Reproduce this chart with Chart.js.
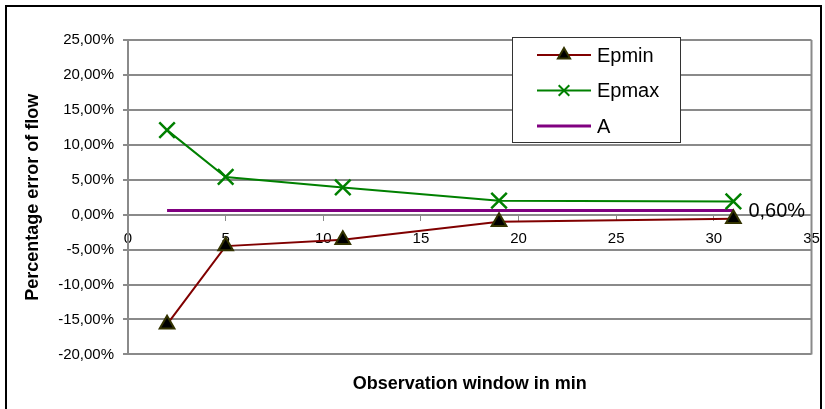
<!DOCTYPE html>
<html>
<head>
<meta charset="utf-8">
<script src="https://cdn.jsdelivr.net/npm/chart.js@4"></script>
<style>
  html, body { margin: 0; padding: 0; background: #fff; }
  #wrap { width: 825px; height: 409px; }
</style>
</head>
<body>
<div id="wrap"><canvas id="myChart" width="825" height="409"></canvas></div>
<script>
// observation window (min)
const windows = [2, 5, 11, 19, 31];
// percentage error of flow, in %
const epmin = [-15.7, -4.5, -3.6, -1.0, -0.6];
const epmax = [12.1, 5.4, 3.9, 2.0, 1.9];
const aValue = 0.6;
const aRange = [2, 31];
const yTicks = { min: -20, max: 25, step: 5 };
const xTicks = { min: 0, max: 35, step: 5 };

const font = "'Liberation Sans', Arial, sans-serif";
const gridGray = '#8a8a8a';

function toPoints(xs, ys) {
    return xs.map((x, i) => ({ x: x, y: ys[i] }));
}

function pct(v) {
    return v.toFixed(2).replace('.', ',') + '%';
}

// outer frame, plot border, legend box and the A label
const decorations = {
    id: 'decorations',
    beforeDraw(chart) {
        const ctx = chart.ctx;
        ctx.save();
        ctx.fillStyle = '#fff';
        ctx.fillRect(0, 0, chart.width, chart.height);
        ctx.restore();
    },
    afterDraw(chart) {
        const ctx = chart.ctx;
        const area = chart.chartArea;
        ctx.save();

        ctx.strokeStyle = gridGray;
        ctx.lineWidth = 2;
        ctx.beginPath();
        ctx.moveTo(area.right, area.top);
        ctx.lineTo(area.right, area.bottom);
        ctx.stroke();

        ctx.strokeStyle = '#000';
        ctx.lineWidth = 2;
        ctx.strokeRect(6, 6, 815, 500);

        // label for the A line
        const xs = chart.scales.x, ys = chart.scales.y;
        ctx.fillStyle = '#000';
        ctx.font = '20px ' + font;
        ctx.textAlign = 'left';
        ctx.textBaseline = 'middle';
        ctx.fillText(pct(aValue), xs.getPixelForValue(aRange[1]) + 15, ys.getPixelForValue(aValue) + 1);

        // legend
        const box = { left: 512, top: 37, width: 168, height: 105 };
        ctx.fillStyle = '#fff';
        ctx.fillRect(box.left, box.top, box.width, box.height);
        ctx.strokeStyle = '#333';
        ctx.lineWidth = 1;
        ctx.strokeRect(box.left + 0.5, box.top + 0.5, box.width, box.height);

        chart.data.datasets.forEach((ds, i) => {
            const y = 55 + i * 35.5;
            ctx.strokeStyle = ds.borderColor;
            ctx.lineWidth = ds.borderWidth;
            ctx.beginPath();
            ctx.moveTo(537, y);
            ctx.lineTo(591, y);
            ctx.stroke();
            if (ds.pointRadius > 0) {
                ctx.fillStyle = ds.pointBackgroundColor;
                ctx.strokeStyle = ds.pointBorderColor;
                Chart.helpers.drawPoint(ctx, {
                    pointStyle: ds.pointStyle,
                    radius: ds.legendRadius,
                    rotation: 0,
                    borderWidth: ds.pointBorderWidth
                }, 564, y);
            }
            ctx.fillStyle = '#000';
            ctx.font = '20px ' + font;
            ctx.textAlign = 'left';
            ctx.textBaseline = 'middle';
            ctx.fillText(ds.label, 597, y + 1);
        });

        ctx.restore();
    }
};

new Chart(document.getElementById('myChart'), {
    type: 'line',
    data: {
        datasets: [{
            label: 'Epmin',
            data: toPoints(windows, epmin),
            borderColor: '#800000',
            borderWidth: 2,
            pointStyle: 'triangle',
            pointRadius: 8.5,
            legendRadius: 7,
            pointBackgroundColor: '#000',
            pointBorderColor: '#333300',
            pointBorderWidth: 2,
            tension: 0
        }, {
            label: 'Epmax',
            data: toPoints(windows, epmax),
            borderColor: '#008000',
            borderWidth: 2,
            pointStyle: 'crossRot',
            pointRadius: 11,
            legendRadius: 7.5,
            pointBackgroundColor: '#008000',
            pointBorderColor: '#008000',
            pointBorderWidth: 2.5,
            tension: 0
        }, {
            label: 'A',
            data: toPoints(aRange, [aValue, aValue]),
            borderColor: '#800080',
            borderWidth: 3,
            pointRadius: 0,
            tension: 0
        }]
    },
    options: {
        responsive: false,
        animation: false,
        events: [],
        clip: false,
        layout: { padding: { left: 0, right: 13, top: 40, bottom: 0 } },
        plugins: {
            legend: { display: false },
            tooltip: { enabled: false },
            title: {
                display: true,
                position: 'bottom',
                fullSize: false,
                text: 'Observation window in min',
                color: '#000',
                font: { family: font, size: 18, weight: 'bold' },
                padding: { top: 19, bottom: 14 }
            }
        },
        scales: {
            x: {
                type: 'linear',
                position: { y: 0 },
                min: xTicks.min,
                max: xTicks.max,
                afterFit(scale) { scale.paddingLeft = 0; scale.paddingRight = 0; },
                ticks: {
                    stepSize: xTicks.step,
                    color: '#000',
                    font: { family: font, size: 15 },
                    padding: 10,
                    maxRotation: 0
                },
                grid: { drawOnChartArea: false, drawTicks: true, tickLength: 5, color: gridGray, lineWidth: 1 },
                border: { color: gridGray, width: 2 }
            },
            y: {
                position: 'left',
                min: yTicks.min,
                max: yTicks.max,
                afterFit(scale) { scale.width = 128; },
                ticks: {
                    stepSize: yTicks.step,
                    color: '#000',
                    font: { family: font, size: 15 },
                    padding: 9,
                    callback: v => pct(v)
                },
                grid: { color: gridGray, lineWidth: 2, tickLength: 5 },
                border: { color: gridGray, width: 2 },
                title: {
                    display: true,
                    text: 'Percentage error of flow',
                    color: '#000',
                    font: { family: font, size: 18, weight: 'bold' },
                    padding: { top: 22, bottom: 0 }
                }
            }
        }
    },
    plugins: [decorations]
});
</script>
</body>
</html>
